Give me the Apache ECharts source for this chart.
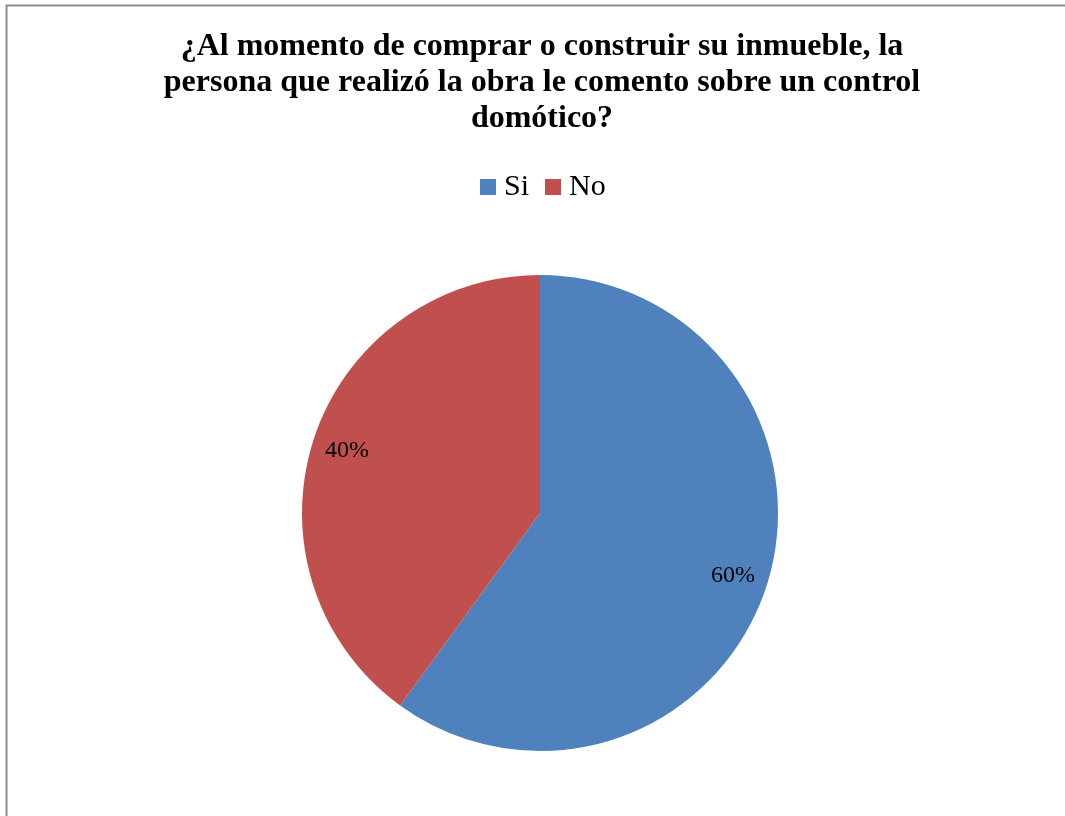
<!DOCTYPE html>
<html>
<head>
<meta charset="utf-8">
<script src="https://cdn.jsdelivr.net/npm/echarts@6/dist/echarts.min.js"></script>
<style>
  html, body { margin: 0; padding: 0; background: #ffffff; }
  #chart { width: 1065px; height: 816px; }
</style>
</head>
<body>
<div id="chart"></div>
<script>
const titleText = '¿Al momento de comprar o construir su inmueble, la\npersona que realizó la obra le comento sobre un control\ndomótico?';
const categories = ['Si', 'No'];
const values = [60, 40];
const colors = ['#4F81BD', '#C0504D'];

const serif = '"Liberation Serif", "Times New Roman", serif';
const pieData = categories.map((name, i) => ({ name: name, value: values[i] }));

const chart = echarts.init(document.getElementById('chart'), null, { renderer: 'canvas' });
chart.setOption({
  animation: false,
  backgroundColor: '#ffffff',
  color: colors,
  graphic: [{
    type: 'rect',
    shape: { x: 6.5, y: 5.5, width: 1070, height: 830 },
    style: { fill: 'none', stroke: '#8c8c8c', lineWidth: 2 },
    silent: true,
    z: -1
  }],
  title: {
    text: titleText,
    left: 537,
    top: 24,
    textAlign: 'center',
    textStyle: {
      fontFamily: serif,
      fontWeight: 'bold',
      fontSize: 32,
      lineHeight: 36,
      color: '#000000'
    }
  },
  legend: {
    data: categories,
    left: 475,
    top: 167,
    icon: 'rect',
    itemWidth: 16,
    itemHeight: 16,
    itemGap: 16,
    textStyle: { fontFamily: serif, fontSize: 30, color: '#000000', padding: [0, 0, 0, 3] }
  },
  series: [
    {
      type: 'pie',
      center: [540, 513],
      radius: 238,
      startAngle: 90,
      clockwise: true,
      data: pieData,
      label: { show: false },
      labelLine: { show: false },
      emphasis: { disabled: true },
      silent: true
    },
    {
      // transparent ring that positions the percentage labels
      type: 'pie',
      center: [540, 513],
      radius: [162, 238],
      startAngle: 90,
      clockwise: true,
      data: pieData,
      itemStyle: { color: 'rgba(0,0,0,0)' },
      label: {
        show: true,
        position: 'inside',
        formatter: p => p.value + '%',
        fontFamily: serif,
        fontSize: 24,
        color: '#000000'
      },
      labelLine: { show: false },
      emphasis: { disabled: true },
      silent: true,
      z: 3
    }
  ]
});
</script>
</body>
</html>
